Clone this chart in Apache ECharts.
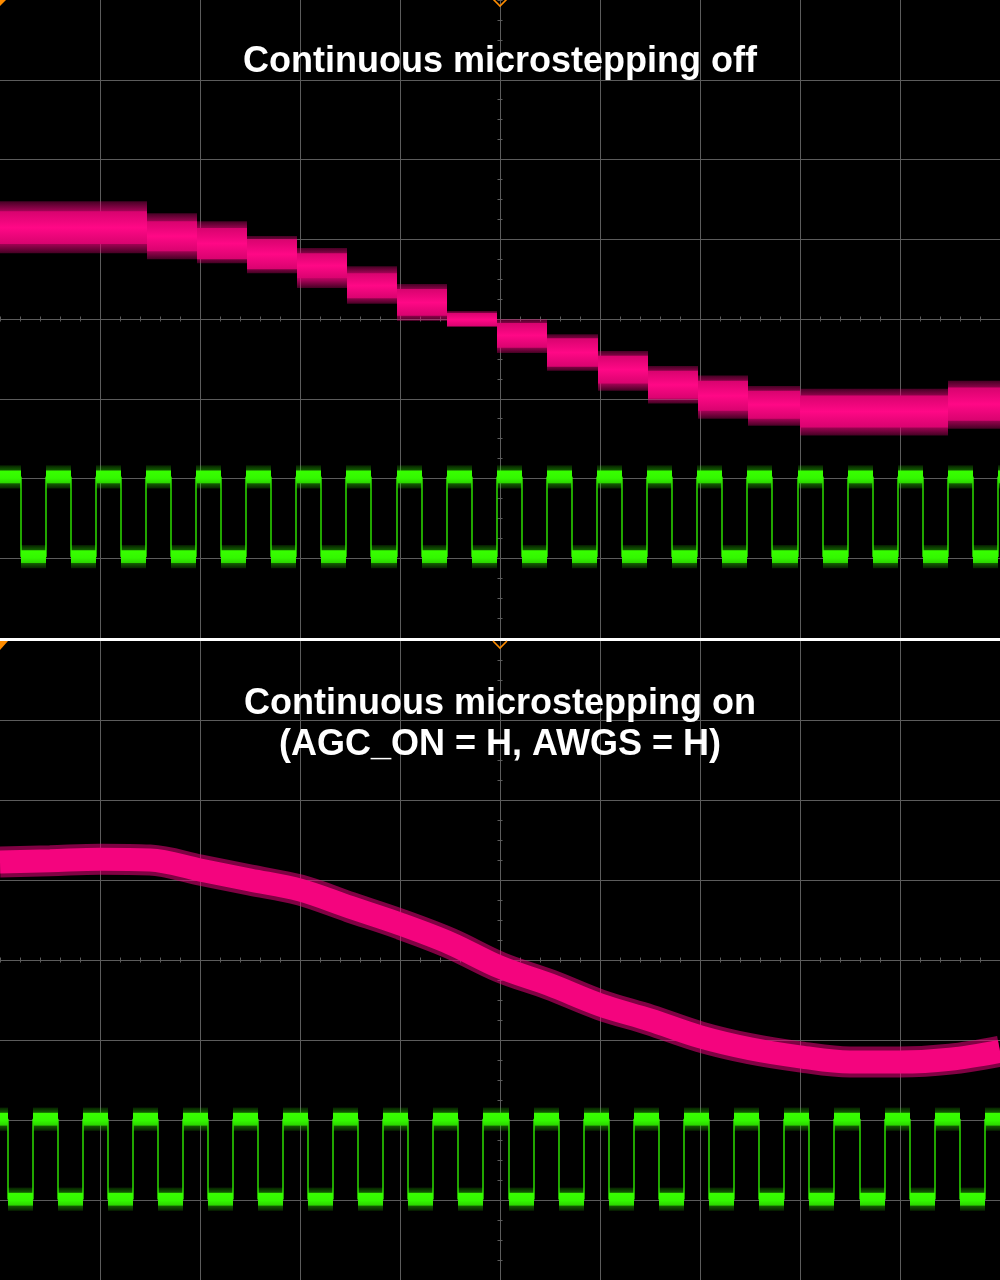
<!DOCTYPE html>
<html>
<head>
<meta charset="utf-8">
<script src="https://cdn.jsdelivr.net/npm/echarts@6/dist/echarts.min.js"></script>
<style>
html,body{margin:0;padding:0;background:#000;}
#c{width:1000px;height:1280px;}
</style>
</head>
<body>
<div id="c"></div>
<script>
// ---- Data (x: time in 1/10 division, -50..50; y: 1/8 of a pixel-division, -40..40 per panel) ----
const titleTop = 'Continuous microstepping off';
const titleBottom1 = 'Continuous microstepping on';
const titleBottom2 = '(AGC_ON = H, AWGS = H)';

// Top panel: stepped motor current (pink)
const pinkTopStart  = [-50, -35.3, -30.3, -25.3, -20.3, -15.3, -10.3, -5.3, -0.3, 4.7, 9.8, 14.8, 19.8, 24.8, 30, 44.8];
const pinkTopEnd    = [-35.3, -30.3, -25.3, -20.3, -15.3, -10.3, -5.3, -0.3, 4.7, 9.8, 14.8, 19.8, 24.8, 30, 44.8, 50];
const pinkTopCoreHi = [13.5, 12.25, 11.4, 10, 8.25, 5.75, 3.75, 0.75, -0.5, -2.4, -4.6, -6.5, -7.75, -9, -9.6, -8.6];
const pinkTopCoreLo = [9.4, 8.5, 7.5, 6.25, 5.1, 2.6, 0.4, -0.9, -3.6, -6, -8.1, -10, -11.5, -12.5, -13.6, -12.75];
const pinkTopSpikeHi = [14.75, 13.25, 12.25, 10.4, 8.9, 6.6, 4.4, 1, 0, -1.9, -4, -5.9, -7.1, -8.4, -8.75, -7.75];
const pinkTopSpikeLo = [8.25, 7.5, 7, 5.75, 3.9, 1.9, -0.25, -1, -4.25, -6.5, -9, -10.6, -12.5, -13.4, -14.6, -13.75];

// Top panel: step clock (green)
const greenTopFall = [-47.9, -42.9, -37.9, -32.9, -27.9, -22.9, -17.9, -12.9, -7.8, -2.8, 2.2, 7.2, 12.2, 17.2, 22.2, 27.2, 32.3, 37.3, 42.3, 47.3];
const greenTopRise = [-45.4, -40.4, -35.4, -30.4, -25.4, -20.4, -15.4, -10.3, -5.3, -0.3, 4.7, 9.7, 14.7, 19.7, 24.7, 29.8, 34.8, 39.8, 44.8, 49.8];
const greenTopLevels = [-19.8, -29.8]; // high, low

// Bottom panel: smooth motor current (pink)
const pinkBotX   = [-50, -45, -40, -35, -30, -25, -20, -15, -10, -5, 0, 5, 10, 15, 20, 25, 30, 35, 40, 45, 50];
const pinkBotMid = [12.25, 12.4, 12.6, 12.5, 11.25, 10, 8.75, 6.6, 4.5, 2.1, -0.9, -3.1, -5.6, -7.5, -9.6, -11.1, -12.1, -12.75, -12.75, -12.4, -11.4];

// Bottom panel: step clock (green)
const greenBotFall = [-49.2, -44.2, -39.2, -34.2, -29.2, -24.2, -19.2, -14.2, -9.2, -4.2, 0.9, 5.9, 10.9, 15.9, 20.9, 25.9, 30.9, 36.0, 41.0, 46.0];
const greenBotRise = [-46.7, -41.7, -36.7, -31.7, -26.7, -21.7, -16.7, -11.7, -6.7, -1.7, 3.4, 8.4, 13.4, 18.4, 23.4, 28.4, 33.4, 38.5, 43.5, 48.5];
const greenBotLevels = [-19.9, -29.9];

const greenCoreHalf = 0.8;
const greenSpikeHalf = 1.45;

// ---- Helpers ----
function greenSegments(fall, rise, levels) {
  const H = levels[0], L = levels[1];
  const segs = [];
  let x = -50;
  for (let i = 0; i < fall.length; i++) {
    segs.push([x, fall[i], H]);
    segs.push([fall[i], rise[i], L]);
    x = rise[i];
  }
  segs.push([x, 50, H]);
  return segs;
}
function greenPath(segs) {
  const pts = [];
  segs.forEach(s => { pts.push([s[0], s[2]]); pts.push([s[1], s[2]]); });
  return pts;
}
function rectRender(fillFn, opacity) {
  return function (params, api) {
    const a = api.coord([api.value(0), api.value(3)]);
    const b = api.coord([api.value(1), api.value(2)]);
    const cs = params.coordSys;
    const shape = echarts.graphic.clipRectByRect(
      { x: a[0], y: a[1], width: b[0] - a[0], height: b[1] - a[1] },
      { x: cs.x, y: cs.y, width: cs.width, height: cs.height });
    return shape && { type: 'rect', shape: shape, style: { fill: fillFn(), opacity: opacity } };
  };
}
const GRID = '#5c5c5c';
const PINK = '#f4047e';
const GREEN = '#33ff00';
const pinkGrad = () => new echarts.graphic.LinearGradient(0, 0, 0, 1, [
  { offset: 0, color: '#d8036f' }, { offset: 0.5, color: '#ff0886' }, { offset: 1, color: '#d8036f' }]);
const pinkHalo = () => new echarts.graphic.LinearGradient(0, 0, 0, 1, [
  { offset: 0, color: 'rgba(230,4,120,0.3)' }, { offset: 0.2, color: 'rgba(230,4,120,0.75)' },
  { offset: 0.5, color: 'rgba(230,4,120,0.95)' },
  { offset: 0.8, color: 'rgba(230,4,120,0.75)' }, { offset: 1, color: 'rgba(230,4,120,0.3)' }]);
const greenGrad = () => new echarts.graphic.LinearGradient(0, 0, 0, 1, [
  { offset: 0, color: '#38ff00' }, { offset: 0.6, color: '#33f800' }, { offset: 1, color: '#2bd400' }]);
const greenHalo = () => new echarts.graphic.LinearGradient(0, 0, 0, 1, [
  { offset: 0, color: 'rgba(45,230,0,0.15)' }, { offset: 0.3, color: 'rgba(45,230,0,0.5)' },
  { offset: 0.7, color: 'rgba(45,230,0,0.5)' }, { offset: 1, color: 'rgba(45,230,0,0.15)' }]);

function axesFor(g) {
  const xs = [
    { gridIndex: g, type: 'value', min: -50, max: 50, interval: 10,
      splitLine: { show: true, showMinLine: false, showMaxLine: false, lineStyle: { color: GRID, width: 1 } },
      axisLine: { show: false }, axisTick: { show: false }, axisLabel: { show: false } },
    { gridIndex: g, type: 'value', min: -50, max: 50, interval: 2,
      splitLine: { show: false }, axisLine: { show: true, onZero: true, lineStyle: { color: GRID } },
      axisTick: { show: true, inside: true, length: 2.5, lineStyle: { color: GRID } }, axisLabel: { show: false } },
    { gridIndex: g, type: 'value', min: -50, max: 50, interval: 2,
      splitLine: { show: false }, axisLine: { show: true, onZero: true, lineStyle: { color: GRID } },
      axisTick: { show: true, inside: false, length: 2.5, lineStyle: { color: GRID } }, axisLabel: { show: false } }
  ];
  const ys = [
    { gridIndex: g, type: 'value', min: -40, max: 40, interval: 10,
      splitLine: { show: true, showMinLine: false, showMaxLine: false, lineStyle: { color: GRID, width: 1 } },
      axisLine: { show: false }, axisTick: { show: false }, axisLabel: { show: false } },
    { gridIndex: g, type: 'value', min: -40, max: 40, interval: 2.5,
      splitLine: { show: false }, axisLine: { show: true, onZero: true, lineStyle: { color: GRID } },
      axisTick: { show: true, inside: true, length: 2.5, lineStyle: { color: GRID } }, axisLabel: { show: false } },
    { gridIndex: g, type: 'value', min: -40, max: 40, interval: 2.5,
      splitLine: { show: false }, axisLine: { show: true, onZero: true, lineStyle: { color: GRID } },
      axisTick: { show: true, inside: false, length: 2.5, lineStyle: { color: GRID } }, axisLabel: { show: false } }
  ];
  return { xs, ys };
}
const a0 = axesFor(0), a1 = axesFor(1);

const gTopSegs = greenSegments(greenTopFall, greenTopRise, greenTopLevels);
const gBotSegs = greenSegments(greenBotFall, greenBotRise, greenBotLevels);

function greenSeries(segs, ax) {
  return [
    { type: 'custom', xAxisIndex: ax, yAxisIndex: ax, renderItem: rectRender(greenHalo, 1),
      encode: { x: [0, 1], y: [2, 3] }, z: 3,
      data: segs.map(s => [s[0], s[1], s[2] - greenSpikeHalf, s[2] + greenSpikeHalf]) },
    { type: 'line', xAxisIndex: ax, yAxisIndex: ax, data: greenPath(segs), showSymbol: false, z: 4,
      lineStyle: { color: GREEN, width: 1.3 }, clip: true },
    { type: 'custom', xAxisIndex: ax, yAxisIndex: ax, renderItem: rectRender(greenGrad, 1),
      encode: { x: [0, 1], y: [2, 3] }, z: 5,
      data: segs.map(s => [s[0], s[1], s[2] - greenCoreHalf, s[2] + greenCoreHalf]) }
  ];
}

const series = [
  { type: 'custom', xAxisIndex: 0, yAxisIndex: 0, renderItem: rectRender(pinkHalo, 1),
    encode: { x: [0, 1], y: [2, 3] }, z: 3,
    data: pinkTopStart.map((s, i) => [s, pinkTopEnd[i], pinkTopSpikeLo[i], pinkTopSpikeHi[i]]) },
  { type: 'custom', xAxisIndex: 0, yAxisIndex: 0, renderItem: rectRender(pinkGrad, 1),
    encode: { x: [0, 1], y: [2, 3] }, z: 4,
    data: pinkTopStart.map((s, i) => [s, pinkTopEnd[i], pinkTopCoreLo[i], pinkTopCoreHi[i]]) },
  ...greenSeries(gTopSegs, 0),
  { type: 'line', xAxisIndex: 3, yAxisIndex: 3, smooth: 0.35, showSymbol: false, z: 3, clip: true,
    data: pinkBotX.map((x, i) => [x, pinkBotMid[i]]),
    lineStyle: { color: '#e8047a', width: 31, opacity: 0.55 } },
  { type: 'line', xAxisIndex: 3, yAxisIndex: 3, smooth: 0.35, showSymbol: false, z: 4, clip: true,
    data: pinkBotX.map((x, i) => [x, pinkBotMid[i]]),
    lineStyle: { color: PINK, width: 23 } },
  ...greenSeries(gBotSegs, 3)
];

const FONT = 'bold 36px "Liberation Sans", Arial, Helvetica, sans-serif';
function txt(t, y) {
  return { type: 'text', z: 100, style: { text: t, x: 500, y: y, textAlign: 'center', textVerticalAlign: 'middle',
    align: 'center', verticalAlign: 'middle', font: FONT, fill: '#ffffff' } };
}
const ORANGE = '#ff8c00';

const chart = echarts.init(document.getElementById('c'), null, { renderer: 'canvas' });
chart.setOption({
  backgroundColor: '#000',
  animation: false,
  grid: [
    { left: 0, width: 1000, top: -2, height: 640 },
    { left: 0, width: 1000, top: 640, height: 640 }
  ],
  xAxis: [...a0.xs, ...a1.xs],
  yAxis: [...a0.ys, ...a1.ys],
  series: series,
  graphic: [
    txt(titleTop, 62),
    txt(titleBottom1, 704),
    txt(titleBottom2, 745),
    { type: 'rect', z: 90, shape: { x: 0, y: 638, width: 1000, height: 3 }, style: { fill: '#ffffff' } },
    { type: 'polyline', z: 95, shape: { points: [[493, -1], [500, 6], [507, -1]] }, style: { stroke: ORANGE, lineWidth: 1.6, fill: null } },
    { type: 'polyline', z: 95, shape: { points: [[493, 641], [500, 648], [507, 641]] }, style: { stroke: ORANGE, lineWidth: 1.6, fill: null } },
    { type: 'polygon', z: 95, shape: { points: [[0, 641], [8, 641], [0, 650]] }, style: { fill: ORANGE } },
    { type: 'polygon', z: 95, shape: { points: [[0, 0], [6, 0], [0, 6]] }, style: { fill: ORANGE } }
  ]
});
</script>
</body>
</html>
